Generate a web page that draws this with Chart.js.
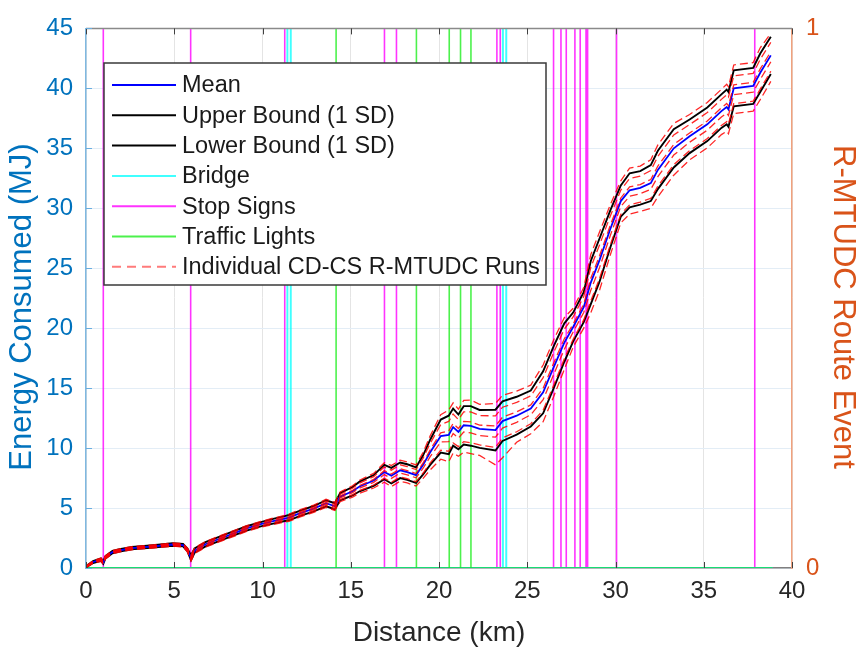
<!DOCTYPE html>
<html><head><meta charset="utf-8">
<script src="https://cdn.jsdelivr.net/npm/chart.js@4.4.1/dist/chart.umd.min.js"></script>
<style>html,body{margin:0;padding:0;background:#fff;}#wrap{width:859px;height:654px;position:relative;}</style>
</head><body><div id="wrap"><canvas id="c" width="859" height="654"></canvas></div>
<script>
const distanceKm = [0,0.4,0.85,0.98,1.1,1.5,1.9,2.6,3.8,4.9,5.5,5.75,5.95,6.15,6.8,7.5,8.3,9.1,9.9,10.6,11.2,11.5,12.1,12.9,13.6,14.1,14.4,15.1,15.5,16.3,16.9,17.3,17.8,18.2,18.7,19.1,19.5,20.1,20.55,20.8,21.1,21.4,21.8,22.3,23.2,23.6,24.4,25.2,25.9,26.5,27.1,27.6,28.2,28.6,29.1,29.7,30.3,30.8,31.4,32.0,32.4,33.3,34.2,35.2,36.0,36.3,36.4,36.7,37.8,38.2,38.8];
const meanMJ = [0.1,0.5,0.7,0.45,0.9,1.33,1.47,1.66,1.8,1.96, 1.9,1.5,0.85,1.45,2.0,2.4,2.85,3.3,3.65,3.9, 4.1,4.2,4.55,4.95,5.4,5.15,5.95,6.4,6.8,7.3, 8.0,7.7,8.15,8.0,7.75,8.6,9.65,11.0,11.1,11.75, 11.35,11.9,11.85,11.6,11.5,12.25,12.7,13.3,14.65,16.75, 18.8,20.1,21.75,23.8,25.7,28.25,30.6,31.5,31.7,32.1, 33.2,35.0,36.0,37.0,38.1,38.45,38.25,40.0,40.2,41.3,42.75];
const upperMJ = [0.15,0.58,0.8,0.55,1.0,1.43,1.57,1.76,1.9,2.06, 2.0,1.62,1.05,1.63,2.18,2.58,3.03,3.48,3.83,4.1, 4.3,4.42,4.77,5.17,5.65,5.4,6.25,6.75,7.2,7.75, 8.6,8.35,8.8,8.65,8.4,9.4,10.7,12.38,12.7,13.3, 12.8,13.5,13.5,13.18,13.2,13.9,14.28,14.8,16.4,18.5, 20.4,21.3,23.0,25.6,27.5,29.8,31.9,32.92,33.1,33.6, 34.8,36.6,37.4,38.4,39.5,39.9,39.7,41.5,41.7,42.9,44.3];
const lowerMJ = [0.05,0.42,0.6,0.35,0.8,1.23,1.37,1.56,1.7,1.86, 1.8,1.38,0.65,1.27,1.82,2.22,2.67,3.12,3.47,3.7, 3.9,3.98,4.33,4.73,5.15,4.9,5.65,6.05,6.4,6.85, 7.4,7.05,7.5,7.35,7.1,7.8,8.6,9.62,9.5,10.2, 9.9,10.3,10.2,10.02,9.8,10.6,11.12,11.8,12.9,15.0, 17.2,18.9,20.5,22.0,23.9,26.7,29.3,30.08,30.3,30.6, 31.6,33.4,34.6,35.6,36.7,37.0,36.8,38.5,38.7,39.7,41.2];
const run1MJ = [0.17,0.6,0.83,0.58,1.03,1.46,1.6,1.79,1.93,2.09, 2.03,1.66,1.11,1.68,2.23,2.63,3.08,3.53,3.88,4.16, 4.36,4.49,4.84,5.24,5.73,5.48,6.34,6.86,7.32,7.89, 8.78,8.55,9.0,8.85,8.6,9.64,11.02,12.79,13.18,13.77, 13.24,13.98,14.0,13.65,13.71,14.4,14.75,15.25,16.93,19.03, 20.88,21.66,23.38,26.14,28.04,30.27,32.29,33.35,33.52,34.05, 35.28,37.08,37.82,38.82,39.92,40.34,40.14,41.95,42.15,43.38,44.6];
const run2MJ = [0.14,0.56,0.77,0.52,0.97,1.4,1.54,1.73,1.87,2.03, 1.97,1.58,0.99,1.58,2.13,2.53,2.98,3.43,3.78,4.04, 4.24,4.35,4.7,5.1,5.58,5.33,6.16,6.65,7.08,7.62, 8.42,8.16,8.61,8.46,8.21,9.16,10.39,11.97,12.22,12.84, 12.37,13.02,13.01,12.71,12.69,13.41,13.81,14.35,15.88,17.98, 19.92,20.94,22.63,25.06,26.96,29.34,31.51,32.49,32.68,33.15, 34.32,36.12,36.98,37.98,39.08,39.47,39.27,41.05,41.25,42.42,43.84];
const run3MJ = [0.11,0.52,0.72,0.47,0.92,1.35,1.49,1.68,1.82,1.98, 1.92,1.52,0.89,1.49,2.04,2.44,2.89,3.34,3.69,3.94, 4.14,4.24,4.59,4.99,5.45,5.2,6.01,6.47,6.88,7.39, 8.12,7.83,8.28,8.13,7.88,8.76,9.86,11.28,11.42,12.06, 11.64,12.22,12.18,11.92,11.84,12.58,13.02,13.6,15.0,17.1, 19.12,20.34,22.0,24.16,26.06,28.56,30.86,31.78,31.98,32.4, 33.52,35.32,36.28,37.28,38.38,38.74,38.54,40.3,40.5,41.62,43.06];
const run4MJ = [0.08,0.47,0.67,0.42,0.87,1.3,1.44,1.63,1.77,1.93, 1.87,1.46,0.78,1.39,1.94,2.34,2.79,3.24,3.59,3.83, 4.03,4.12,4.47,4.87,5.31,5.06,5.85,6.28,6.66,7.14, 7.79,7.47,7.92,7.77,7.52,8.32,9.28,10.52,10.54,11.21, 10.84,11.34,11.27,11.05,10.91,11.67,12.15,12.78,14.04,16.14, 18.24,19.68,21.31,23.17,25.07,27.71,30.15,31.0,31.21,31.58, 32.64,34.44,35.51,36.51,37.61,37.94,37.74,39.48,39.68,40.74,42.21];
const run5MJ = [0.06,0.43,0.62,0.37,0.82,1.25,1.39,1.58,1.72,1.88, 1.82,1.4,0.68,1.3,1.85,2.25,2.7,3.15,3.5,3.73, 3.93,4.01,4.36,4.76,5.19,4.94,5.7,6.1,6.46,6.92, 7.49,7.15,7.6,7.45,7.2,7.92,8.76,9.83,9.74,10.43, 10.12,10.54,10.45,10.26,10.06,10.85,11.36,12.03,13.16,15.26, 17.44,19.08,20.69,22.27,24.17,26.93,29.5,30.29,30.51,30.83, 31.84,33.64,34.81,35.81,36.91,37.22,37.02,38.73,38.93,39.94,41.43];
const run6MJ = [0.03,0.39,0.56,0.31,0.76,1.19,1.33,1.52,1.66,1.82, 1.76,1.33,0.57,1.2,1.75,2.15,2.6,3.05,3.4,3.62, 3.82,3.89,4.24,4.64,5.05,4.8,5.53,5.91,6.24,6.67, 7.16,6.79,7.24,7.09,6.84,7.48,8.18,9.07,8.86,9.58, 9.32,9.66,9.54,9.39,8.6,9.2,10.49,11.2,12.2,14.3, 16.56,18.42,20.0,21.28,23.18,26.08,28.78,29.51,29.74,30.0, 30.96,32.76,34.04,35.04,36.14,36.42,36.22,37.9,38.1,39.06,40.58];
const bridgeKm = [11.41,11.6,23.62,23.81];
const stopSignKm = [0.98,5.93,11.26,16.91,17.59,23.28,23.47,26.49,26.91,27.21,27.7,28.0,28.33,28.42,30.06,37.89];
const trafficLightKm = [14.17,18.72,20.58,21.22,21.81];
const routeEndKm = 38.9;
const xTicks = [0,5,10,15,20,25,30,35,40];
const yTicks = [0,5,10,15,20,25,30,35,40,45];
const eventTicks = [0,1];
const xTitle = 'Distance (km)';
const yTitle = 'Energy Consumed (MJ)';
const y1Title = 'R-MTUDC Route Event';

const pts = arr => distanceKm.map((x,i)=>({x:x,y:arr[i]}));
const eventPts = pos => {
  const d=[{x:0,y:0}];
  pos.forEach(p=>{d.push({x:p,y:0},{x:p,y:1},{x:p,y:0});});
  d.push({x:routeEndKm,y:0});
  return d;
};
const base = {pointRadius:0,tension:0,fill:false};
const runStyle = {borderColor:'rgba(255,0,0,0.85)',borderWidth:1.3,borderDash:[8,4],order:0,yAxisID:'y',legendColor:'#ff7b7b',legendDash:[9,6]};
const datasets = [
  Object.assign({label:'Mean',data:pts(meanMJ),borderColor:'#0000ff',borderWidth:1.8,order:1,yAxisID:'y',legend:true},base),
  Object.assign({label:'Upper Bound (1 SD)',data:pts(upperMJ),borderColor:'#000000',borderWidth:1.9,order:1,yAxisID:'y',legend:true},base),
  Object.assign({label:'Lower Bound (1 SD)',data:pts(lowerMJ),borderColor:'#000000',borderWidth:1.9,order:1,yAxisID:'y',legend:true},base),
  Object.assign({label:'Bridge',data:eventPts(bridgeKm),borderColor:'rgba(0,255,255,0.75)',borderWidth:2,order:3,yAxisID:'y1',legend:true},base),
  Object.assign({label:'Stop Signs',data:eventPts(stopSignKm),borderColor:'rgba(255,0,255,0.8)',borderWidth:1.6,order:3,yAxisID:'y1',legend:true},base),
  Object.assign({label:'Traffic Lights',data:eventPts(trafficLightKm),borderColor:'rgba(0,235,0,0.7)',borderWidth:1.6,order:2,yAxisID:'y1',legend:true},base),
  Object.assign({label:'Individual CD-CS R-MTUDC Runs',data:pts(run1MJ),legend:true},runStyle,base),
  Object.assign({label:'run2',data:pts(run2MJ)},runStyle,base),
  Object.assign({label:'run3',data:pts(run3MJ)},runStyle,base),
  Object.assign({label:'run4',data:pts(run4MJ)},runStyle,base),
  Object.assign({label:'run5',data:pts(run5MJ)},runStyle,base),
  Object.assign({label:'run6',data:pts(run6MJ)},runStyle,base)
];

const FONT = 'Liberation Sans, Arial, Helvetica, sans-serif';
const decor = {
  id:'decor',
  afterDraw(chart){
    const ctx=chart.ctx, a=chart.chartArea, xs=chart.scales.x, ys=chart.scales.y;
    ctx.save();
    ctx.strokeStyle='#8a8a8a'; ctx.lineWidth=1.5;
    ctx.beginPath(); ctx.moveTo(a.left,a.top); ctx.lineTo(a.right,a.top); ctx.stroke();
    ctx.strokeStyle='#404040'; ctx.lineWidth=1;
    xTicks.forEach(v=>{const px=Math.round(xs.getPixelForValue(v))+0.5; ctx.beginPath(); ctx.moveTo(px,a.bottom); ctx.lineTo(px,a.bottom-6); ctx.moveTo(px,a.top); ctx.lineTo(px,a.top+6); ctx.stroke();});
    ctx.strokeStyle='#6aaee0';
    yTicks.forEach(v=>{const py=Math.round(ys.getPixelForValue(v))+0.5; ctx.beginPath(); ctx.moveTo(a.left,py); ctx.lineTo(a.left+6,py); ctx.stroke();});
    // vertical axis titles
    ctx.font='31px '+FONT; ctx.textAlign='center'; ctx.textBaseline='middle';
    ctx.save(); ctx.translate(22,307); ctx.rotate(-Math.PI/2); ctx.fillStyle='#0072BD'; ctx.fillText(yTitle,0,0); ctx.restore();
    ctx.save(); ctx.translate(843,307); ctx.rotate(Math.PI/2); ctx.fillStyle='#D95319'; ctx.fillText(y1Title,0,0); ctx.restore();
    // legend box
    const bx=104,by=63,bw=442,bh=222;
    ctx.fillStyle='#ffffff'; ctx.fillRect(bx,by,bw,bh);
    ctx.strokeStyle='#3a3a3a'; ctx.lineWidth=1.5; ctx.strokeRect(bx,by,bw,bh);
    const items = chart.data.datasets.filter(d=>d.legend);
    ctx.font = '23.5px '+FONT; ctx.textBaseline='middle'; ctx.textAlign='left';
    items.forEach((d,i)=>{
      const yy = 85 + i*30.3;
      ctx.strokeStyle = d.legendColor || d.borderColor;
      ctx.lineWidth = 2;
      ctx.setLineDash(d.legendDash || []);
      ctx.beginPath(); ctx.moveTo(112,yy); ctx.lineTo(176,yy); ctx.stroke();
      ctx.setLineDash([]);
      ctx.fillStyle='#1a1a1a';
      ctx.fillText(d.label,182,yy+1);
    });
    ctx.restore();
  }
};

new Chart(document.getElementById('c'), {
  type:'line',
  data:{datasets:datasets},
  options:{
    responsive:false, animation:false, devicePixelRatio:1,
    layout:{padding:{top:17,left:0,right:0,bottom:0}},
    plugins:{legend:{display:false},tooltip:{enabled:false}},
    scales:{
      x:{type:'linear',min:0,max:40,
        afterBuildTicks:s=>{s.ticks=xTicks.map(v=>({value:v}));},
        ticks:{color:'#262626',font:{size:24,family:FONT},padding:9,maxRotation:0},
        grid:{color:'#e4e4e4',lineWidth:1,drawTicks:false},
        border:{color:'#808080',width:1.5},
        title:{display:true,text:xTitle,color:'#262626',font:{size:28,family:FONT},padding:{top:0,bottom:4}},
        afterFit:s=>{s.height=86;}
      },
      y:{type:'linear',position:'left',min:0,max:45,
        afterBuildTicks:s=>{s.ticks=yTicks.map(v=>({value:v}));},
        ticks:{color:'#0072BD',font:{size:24,family:FONT},padding:13},
        grid:{color:'#e3edf6',lineWidth:1,drawTicks:false},
        border:{color:'#7fb8e0',width:1.5},
        title:{display:false},
        afterFit:s=>{s.width=86;}
      },
      y1:{type:'linear',position:'right',min:0,max:1,
        afterBuildTicks:s=>{s.ticks=eventTicks.map(v=>({value:v}));},
        ticks:{color:'#D95319',font:{size:24,family:FONT},padding:14},
        grid:{display:false,drawTicks:false},
        border:{color:'#f0a27e',width:1.5},
        title:{display:false},
        afterFit:s=>{s.width=67;}
      }
    }
  },
  plugins:[decor]
});
</script></body></html>
